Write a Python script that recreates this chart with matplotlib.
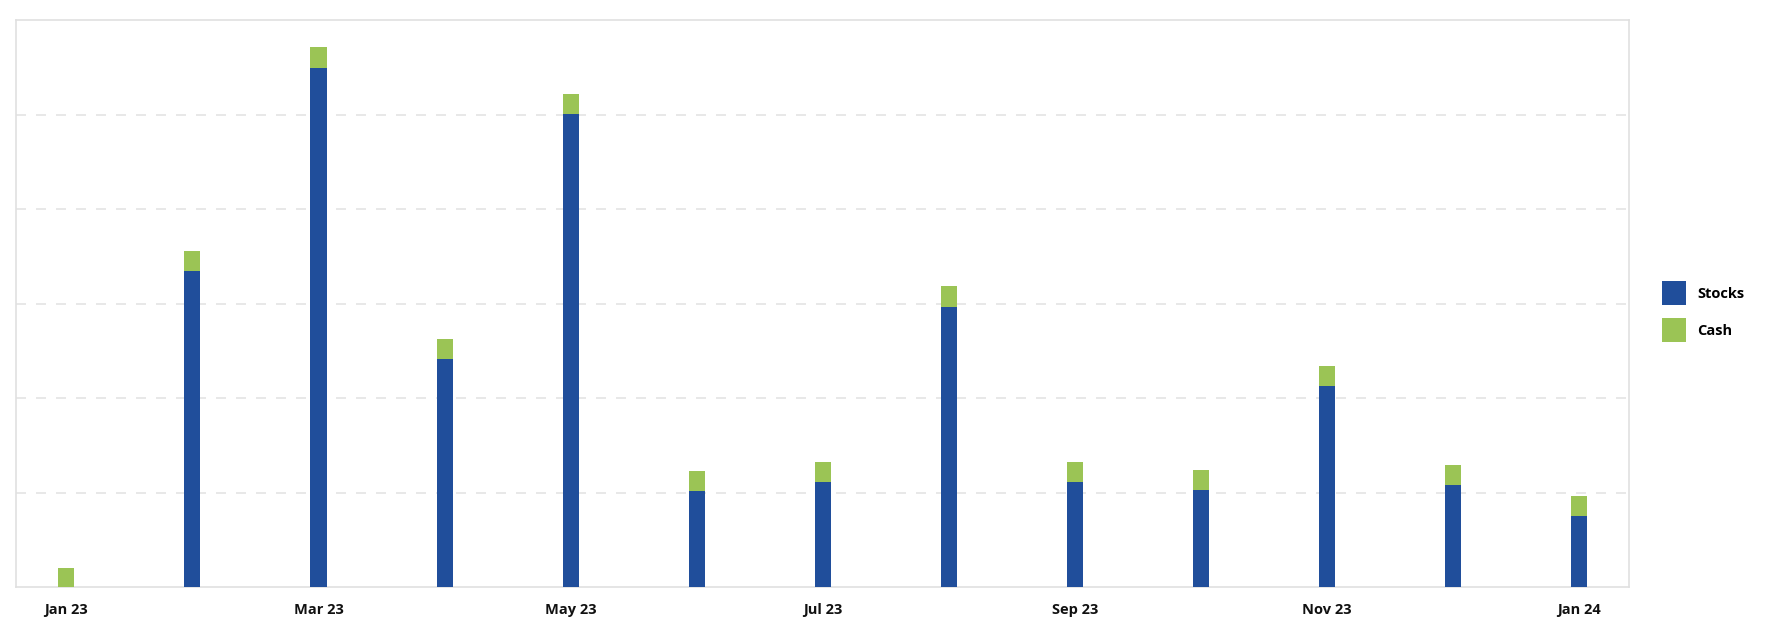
import matplotlib
matplotlib.use("Agg")
import matplotlib.pyplot as plt
from matplotlib.patches import Patch
import numpy as np

months = ["Jan 23", "Feb 23", "Mar 23", "Apr 23", "May 23", "Jun 23", "Jul 23",
          "Aug 23", "Sep 23", "Oct 23", "Nov 23", "Dec 23", "Jan 24"]
stocks = [0.0, 3.345, 5.50, 2.418, 5.013, 1.017, 1.115, 2.969, 1.115, 1.034, 2.132, 1.08, 0.752]
cash = [0.207, 0.211, 0.216, 0.211, 0.211, 0.215, 0.216, 0.215, 0.216, 0.209, 0.212, 0.212, 0.211]
tick_labels = ["Jan 23", "Mar 23", "May 23", "Jul 23", "Sep 23", "Nov 23", "Jan 24"]

BLUE = "#204E9B"
GREEN = "#9BC455"
GRID = "#e4e4e4"
SPINE = "#e0e0e0"

plt.rcParams['font.family'] = ['Open Sans', 'DejaVu Sans']

W, H = 1766, 638
fig = plt.figure(figsize=(W / 100, H / 100), dpi=100)
ax = fig.add_axes([16 / W, 1 - 587.3 / H, (1629 - 16) / W, (587.3 - 20.3) / H])

x = np.arange(len(months))
bw = 0.127
ax.bar(x, stocks, width=bw, color=BLUE, label="Stocks", zorder=3)
ax.bar(x, cash, width=bw, bottom=stocks, color=GREEN, label="Cash", zorder=3)

ax.set_xlim(-0.399, 12.393)
ax.set_ylim(0, 6)
ax.set_yticks([1, 2, 3, 4, 5])
ax.set_yticklabels([])
ax.tick_params(axis='y', length=0)
ax.yaxis.grid(True, color=GRID, linestyle=(0, (6, 6)), linewidth=1.2, zorder=0)

ax.set_xticks([months.index(t) for t in tick_labels])
ax.set_xticklabels(tick_labels, fontsize=10.5, fontweight='bold', color='#111111')
ax.tick_params(axis='x', length=0, pad=11)

for s in ax.spines.values():
    s.set_color(SPINE)
    s.set_linewidth(1.2)

handles = [Patch(facecolor=BLUE, label="Stocks"), Patch(facecolor=GREEN, label="Cash")]
fig.legend(handles=handles, loc='center left', bbox_to_anchor=(1654.5 / W, 1 - 311.7 / H),
           bbox_transform=fig.transFigure, frameon=False, borderpad=0,
           handlelength=1.646, handleheight=2.155, labelspacing=0.87, handletextpad=0.8,
           prop={'size': 10.5, 'weight': 'bold'})

fig.savefig("out.png", dpi=100, facecolor='white')
